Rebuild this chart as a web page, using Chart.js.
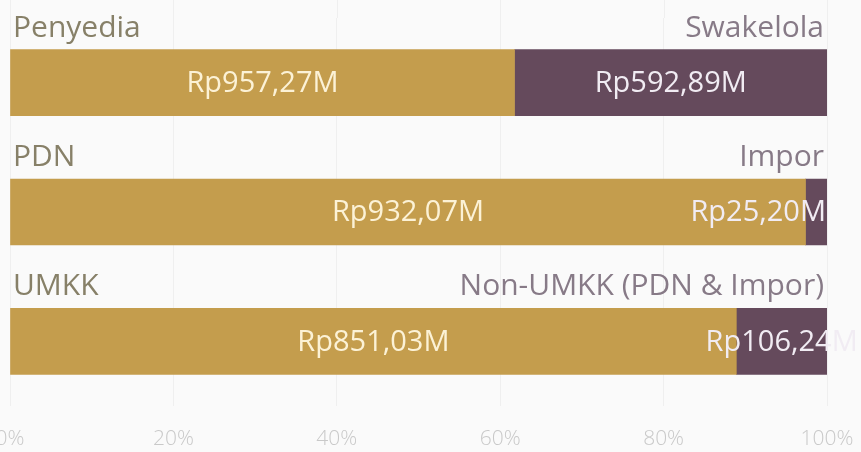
<!DOCTYPE html>
<html>
<head>
<meta charset="utf-8">
<script src="https://cdn.jsdelivr.net/npm/chart.js@4/dist/chart.umd.min.js"></script>
<style>
  html, body { margin: 0; padding: 0; background: #fafafa; overflow: hidden; }
  #wrap { position: absolute; left: 0; top: 0; width: 861px; height: 452px; }
</style>
</head>
<body>
<div id="wrap"><canvas id="c"></canvas></div>
<script>
// ---- data ----
const categories = ['Penyedia', 'PDN', 'UMKK'];
const leftLabels = ['Penyedia', 'PDN', 'UMKK'];
const rightLabels = ['Swakelola', 'Impor', 'Non-UMKK (PDN & Impor)'];
const primaryValues = [957.27, 932.07, 851.03];   // Rp miliar (M)
const secondaryValues = [592.89, 25.20, 106.24];  // Rp miliar (M)
const tickLabels = ['0%', '20%', '40%', '60%', '80%', '100%'];

// ---- styles ----
const GOLD = '#c49d4d';
const PURPLE = '#654a5c';
const labelAlign = [['center', 'center', 'center'], ['center', 'end', 'center']];

const totals = primaryValues.map((v, i) => v + secondaryValues[i]);
const primaryPct = primaryValues.map((v, i) => v / totals[i] * 100);
const secondaryPct = secondaryValues.map((v, i) => v / totals[i] * 100);
const rawValues = [primaryValues, secondaryValues];

function fmt(v) { return 'Rp' + v.toFixed(2).replace('.', ',') + 'M'; }

const overlay = {
  id: 'overlay',
  beforeDatasetsDraw(chart) {
    const ctx = chart.ctx, xs = chart.scales.x, area = chart.chartArea;
    ctx.save();
    ctx.strokeStyle = '#efefef';
    ctx.lineWidth = 1;
    xs.ticks.forEach(t => {
      const px = Math.round(xs.getPixelForValue(t.value)) + 0.5;
      ctx.beginPath(); ctx.moveTo(px, 0); ctx.lineTo(px, area.top); ctx.stroke();
    });
    ctx.restore();
  },
  afterDatasetsDraw(chart) {
    const ctx = chart.ctx, area = chart.chartArea;
    ctx.save();
    const meta0 = chart.getDatasetMeta(0);
    meta0.data.forEach((bar, i) => {
      const top = bar.y - bar.height / 2;
      ctx.font = '30px "Open Sans"';
      ctx.textBaseline = 'alphabetic';
      ctx.fillStyle = '#878068';
      ctx.textAlign = 'left';
      ctx.fillText(leftLabels[i], area.left + 3, top - 13);
      ctx.fillStyle = '#877a87';
      ctx.textAlign = 'right';
      ctx.fillText(rightLabels[i], area.right - 3, top - 13);
    });
    ctx.font = '29px "Open Sans"';
    ctx.textBaseline = 'middle';
    chart.data.datasets.forEach((ds, di) => {
      const meta = chart.getDatasetMeta(di);
      meta.data.forEach((bar, i) => {
        const a = labelAlign[di][i];
        const txt = fmt(rawValues[di][i]);
        ctx.fillStyle = di === 0 ? '#fcf2d6' : '#f1ecf3';
        if (a === 'end') {
          ctx.textAlign = 'right';
          ctx.fillText(txt, Math.max(bar.x, bar.base) - 1, bar.y + 1);
        } else {
          ctx.textAlign = 'center';
          ctx.fillText(txt, (bar.x + bar.base) / 2, bar.y + 1);
        }
      });
    });
    ctx.restore();
  }
};

new Chart(document.getElementById('c'), {
  type: 'bar',
  data: {
    labels: categories,
    datasets: [
      { label: 'A', data: primaryPct, backgroundColor: GOLD, barThickness: 66 },
      { label: 'B', data: secondaryPct, backgroundColor: PURPLE, barThickness: 66 }
    ]
  },
  options: {
    indexAxis: 'y',
    responsive: true,
    maintainAspectRatio: false,
    animation: false,
    layout: { padding: { top: 18, bottom: 0, left: 10, right: 34 } },
    plugins: { legend: { display: false }, tooltip: { enabled: false } },
    scales: {
      x: {
        stacked: true, min: 0, max: 100,
        border: { display: false },
        grid: { color: '#efefef', drawTicks: false },
        ticks: {
          stepSize: 20, padding: 20, color: '#c9c9c9',
          font: { family: 'Open Sans', size: 21, weight: '300' },
          callback: (v, i) => tickLabels[i]
        },
        afterFit(scale) {
          scale.paddingLeft = 0;
          scale.paddingRight = 0;
          scale.height = 46;
        }
      },
      y: { stacked: true, display: false }
    }
  },
  plugins: [overlay]
});
</script>
</body>
</html>
